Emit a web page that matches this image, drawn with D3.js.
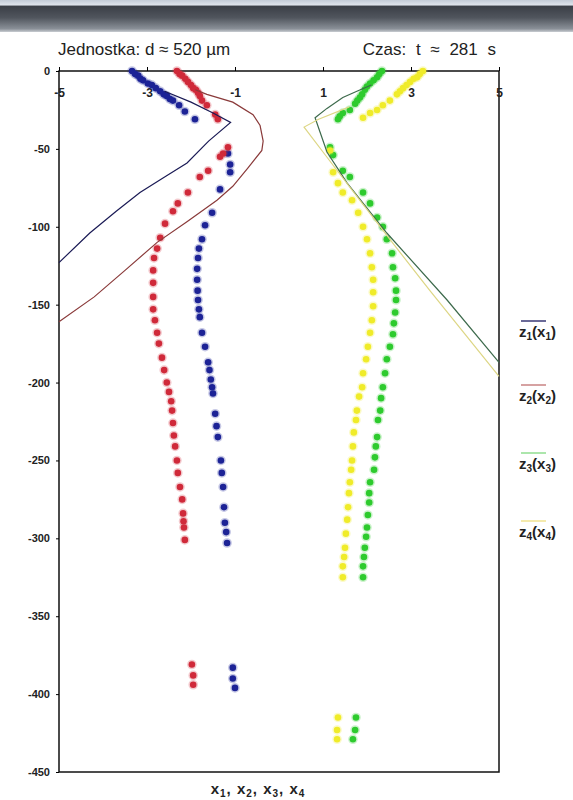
<!DOCTYPE html>
<html>
<head>
<meta charset="utf-8">
<script src="https://cdn.jsdelivr.net/npm/d3@7"></script>
<style>
	html, body { margin: 0; padding: 0; background: #fff; }
	svg { display: block; font-family: "Liberation Sans", Arial, sans-serif; }
</style>
</head>
<body>
<div id="chart"></div>
<script>
var dotsX1 = [
	[-3.34, 0], [-3.27, -2], [-3.2, -3], [-3.15, -5], [-3.09, -6], [-2.98, -8], [-2.89, -9], [-2.8, -11], [-2.7, -13], [-2.62, -15],
	[-2.55, -16], [-2.48, -18], [-2.41, -19], [-2.27, -22], [-2.14, -26], [-1.91, -31],
	[-1.16, -53], [-1.11, -60], [-1.11, -65], [-1.34, -76], [-1.52, -91], [-1.68, -99], [-1.75, -108], [-1.82, -114], [-1.84, -120],
	[-1.86, -127], [-1.86, -134], [-1.85, -141], [-1.84, -147], [-1.82, -153], [-1.8, -158], [-1.75, -168], [-1.68, -177], [-1.61, -187],
	[-1.58, -192], [-1.55, -198], [-1.52, -203], [-1.5, -207], [-1.45, -220], [-1.42, -228], [-1.39, -235], [-1.32, -250], [-1.3, -258], [-1.27, -267],
	[-1.25, -280], [-1.23, -290], [-1.2, -296], [-1.18, -303],
	[-1.05, -383], [-1.05, -390], [-1.0, -396]
];
var dotsX2 = [
	[-2.32, 0], [-2.26, -2], [-2.2, -3], [-2.13, -5], [-2.07, -7], [-2.0, -9], [-1.95, -11], [-1.89, -12], [-1.84, -14], [-1.8, -16],
	[-1.75, -19], [-1.64, -22], [-1.45, -28], [-1.39, -31],
	[-1.16, -49], [-1.27, -53], [-1.34, -55], [-1.61, -64], [-1.8, -68], [-2.07, -78], [-2.3, -85], [-2.41, -90], [-2.59, -98],
	[-2.7, -107], [-2.77, -114], [-2.84, -120], [-2.86, -128], [-2.86, -136], [-2.86, -145], [-2.86, -153], [-2.82, -160],
	[-2.77, -168], [-2.73, -175], [-2.66, -184], [-2.61, -192], [-2.55, -200], [-2.5, -206], [-2.45, -212], [-2.43, -218],
	[-2.41, -226], [-2.39, -234], [-2.36, -241], [-2.32, -250], [-2.3, -258], [-2.25, -267], [-2.2, -275], [-2.18, -284],
	[-2.17, -289], [-2.16, -293], [-2.14, -301],
	[-1.98, -381], [-1.95, -388], [-1.95, -394]
];
var dotsX3 = [
	[2.34, 0], [2.28, -2], [2.23, -4], [2.15, -6], [2.07, -8], [2.0, -10], [1.95, -12], [1.89, -15], [1.84, -17], [1.78, -19],
	[1.73, -21], [1.61, -25], [1.45, -27], [1.38, -29], [1.34, -31],
	[1.16, -49], [1.23, -54], [1.45, -64], [1.61, -68], [1.91, -78], [2.07, -85], [2.23, -94], [2.36, -100], [2.45, -108],
	[2.57, -117], [2.59, -126], [2.64, -133], [2.66, -141], [2.66, -147], [2.64, -155], [2.61, -162], [2.59, -169],
	[2.52, -177], [2.45, -185], [2.41, -194], [2.36, -203], [2.32, -210], [2.3, -218], [2.25, -224], [2.23, -235],
	[2.2, -241], [2.18, -248], [2.16, -256], [2.07, -264], [2.05, -271], [2.05, -277], [2.02, -285], [2.0, -293],
	[1.98, -299], [1.95, -306], [1.93, -312], [1.91, -318], [1.91, -325],
	[1.75, -415], [1.73, -423], [1.68, -429]
];
var dotsX4 = [
	[3.27, 0], [3.2, -2], [3.14, -4], [3.06, -5], [2.98, -7], [2.9, -9], [2.82, -11], [2.75, -13], [2.68, -15], [2.52, -19],
	[2.36, -22], [2.23, -25], [2.07, -27], [1.91, -30],
	[1.16, -51], [1.23, -65], [1.34, -72], [1.45, -78], [1.66, -83], [1.8, -91], [1.91, -100], [2.0, -108], [2.07, -117],
	[2.11, -126], [2.14, -134], [2.14, -142], [2.14, -151], [2.11, -160], [2.07, -168], [2.02, -177], [1.98, -185],
	[1.91, -194], [1.89, -203], [1.82, -209], [1.77, -218], [1.75, -224], [1.7, -232], [1.68, -241], [1.66, -250],
	[1.64, -256], [1.61, -264], [1.59, -271], [1.57, -280], [1.55, -288], [1.52, -297], [1.5, -306], [1.48, -312],
	[1.45, -318], [1.45, -325],
	[1.34, -415], [1.32, -423], [1.32, -429]
];

// model curves z(x)
var lineZ1 = [[-2.6, -13], [-2.0, -20], [-1.5, -27], [-1.1, -33], [-1.6, -45], [-2.09, -59], [-2.6, -68], [-3.16, -78], [-3.7, -90], [-4.3, -104], [-5, -123]];
var lineZ2 = [[-1.9, -12], [-1.64, -15], [-1.05, -20], [-0.59, -28], [-0.43, -35], [-0.36, -45], [-0.39, -51], [-0.7, -62], [-1.05, -74], [-1.41, -83], [-2.1, -97], [-2.77, -110], [-3.5, -128], [-4.2, -145], [-5, -161]];
var lineZ3 = [[2.1, -9], [1.77, -13], [1.45, -17], [1.09, -24], [0.82, -30], [0.93, -39], [1.09, -52], [1.55, -72], [2.45, -104], [3.82, -147], [5, -187]];
var lineZ4 = [[1.6, -23], [0.9, -31], [0.57, -36], [1.0, -52], [1.84, -83], [2.6, -111], [3.43, -141], [5, -196]];

var xTicks = [-5, -3, -1, 1, 3, 5];
var yTicks = [0, -50, -100, -150, -200, -250, -300, -350, -400, -450];
var legendNames = ["1", "2", "3", "4"];

var width = 573,
	height = 800;

var svg = d3.select("#chart").append("svg")
	.attr("width", width)
	.attr("height", height);

// dark window strip at the top
var grad = svg.append("defs").append("linearGradient")
	.attr("id", "band")
	.attr("x1", 0).attr("y1", 0).attr("x2", 0).attr("y2", 1);
[[0, "#c3cbd6"], [0.15, "#dde2ea"], [0.2, "#3b3f47"], [0.55, "#50555d"], [0.9, "#8a9098"], [1, "#c9cdd2"]].forEach(function (s) {
	grad.append("stop").attr("offset", s[0]).attr("stop-color", s[1]);
});
svg.append("rect").attr("x", 0).attr("y", 0).attr("width", width).attr("height", 32).attr("fill", "url(#band)");

var x = d3.scaleLinear().domain([-5, 5]).range([59, 499]);
var y = d3.scaleLinear().domain([0, -450]).range([71, 772]);

// titles
svg.append("text").attr("x", 58).attr("y", 55)
	.style("font-size", "17px").attr("fill", "#222")
	.text("Jednostka: d \u2248 520 \u00b5m");
svg.append("text").attr("x", 496).attr("y", 55)
	.attr("text-anchor", "end")
	.style("font-size", "17px").style("word-spacing", "5px").attr("fill", "#222")
	.text("Czas: t \u2248 281 s");

// plot frame
svg.append("rect")
	.attr("x", x(-5)).attr("y", y(0))
	.attr("width", x(5) - x(-5)).attr("height", y(-450) - y(0))
	.attr("fill", "none").attr("stroke", "#111").attr("stroke-width", 1.5);

var leftAxis = svg.append("g")
	.attr("transform", "translate(" + x(-5) + ",0)")
	.call(d3.axisLeft(y).tickValues(yTicks).tickSize(3).tickPadding(6).tickFormat(function (d) { return String(d); }));
leftAxis.select(".domain").remove();
leftAxis.selectAll("text").style("font-size", "11px").style("font-weight", "bold").attr("fill", "#222");

var topAxis = svg.append("g")
	.attr("transform", "translate(0," + y(0) + ")")
	.call(d3.axisBottom(x).tickValues(xTicks).tickSize(-4).tickPadding(17).tickFormat(function (d) { return String(d); }));
topAxis.select(".domain").remove();
topAxis.selectAll("text").style("font-size", "12px").style("font-weight", "bold").attr("fill", "#222");

var series = [
	{ dots: dotsX1, line: lineZ1, dot: "#1d2396", stroke: "#1a1a55", legend: "#1a1a60" },
	{ dots: dotsX2, line: lineZ2, dot: "#d02a3a", stroke: "#8a3a3a", legend: "#c07070" },
	{ dots: dotsX3, line: lineZ3, dot: "#2ecb2e", stroke: "#3d6a4c", legend: "#7fd87f" },
	{ dots: dotsX4, line: lineZ4, dot: "#f0ec2a", stroke: "#ddd684", legend: "#eedf80" }
];

var lineGen = d3.line()
	.x(function (d) { return x(d[0]); })
	.y(function (d) { return y(d[1]); });

series.forEach(function (s) {
	svg.append("g").selectAll("circle")
		.data(s.dots)
		.enter()
		.append("circle")
		.attr("cx", function (d) { return x(d[0]); })
		.attr("cy", function (d) { return y(d[1]); })
		.attr("r", 3.3)
		.attr("fill", s.dot)
		.attr("stroke", s.dot)
		.attr("stroke-opacity", 0.25)
		.attr("stroke-width", 3);
});

series.forEach(function (s) {
	svg.append("path")
		.datum(s.line)
		.attr("d", lineGen)
		.attr("fill", "none")
		.attr("stroke", s.stroke)
		.attr("stroke-width", 1.2);
});

// legend on the right
var legendY = [321, 385, 453, 521];
series.forEach(function (s, i) {
	svg.append("line")
		.attr("x1", 521).attr("x2", 546)
		.attr("y1", legendY[i]).attr("y2", legendY[i])
		.attr("stroke", s.legend).attr("stroke-width", 1.3);
	var t = svg.append("text")
		.attr("x", 519).attr("y", legendY[i] + 16)
		.style("font-size", "15px").style("font-weight", "bold").attr("fill", "#222");
	t.append("tspan").text("z");
	t.append("tspan").attr("dy", 3).style("font-size", "10px").text(legendNames[i]);
	t.append("tspan").attr("dy", -3).text("(x");
	t.append("tspan").attr("dy", 3).style("font-size", "10px").text(legendNames[i]);
	t.append("tspan").attr("dy", -3).text(")");
});

// axis caption under the plot
var cap = svg.append("text")
	.attr("x", 258).attr("y", 794)
	.attr("text-anchor", "middle")
	.style("font-size", "15px").style("font-weight", "bold").style("letter-spacing", "1px").attr("fill", "#222");
legendNames.forEach(function (n, i) {
	cap.append("tspan").attr("dy", i === 0 ? 0 : -3).text((i === 0 ? "" : ", ") + "x");
	cap.append("tspan").attr("dy", 3).style("font-size", "10px").text(n);
});
</script>
</body>
</html>
